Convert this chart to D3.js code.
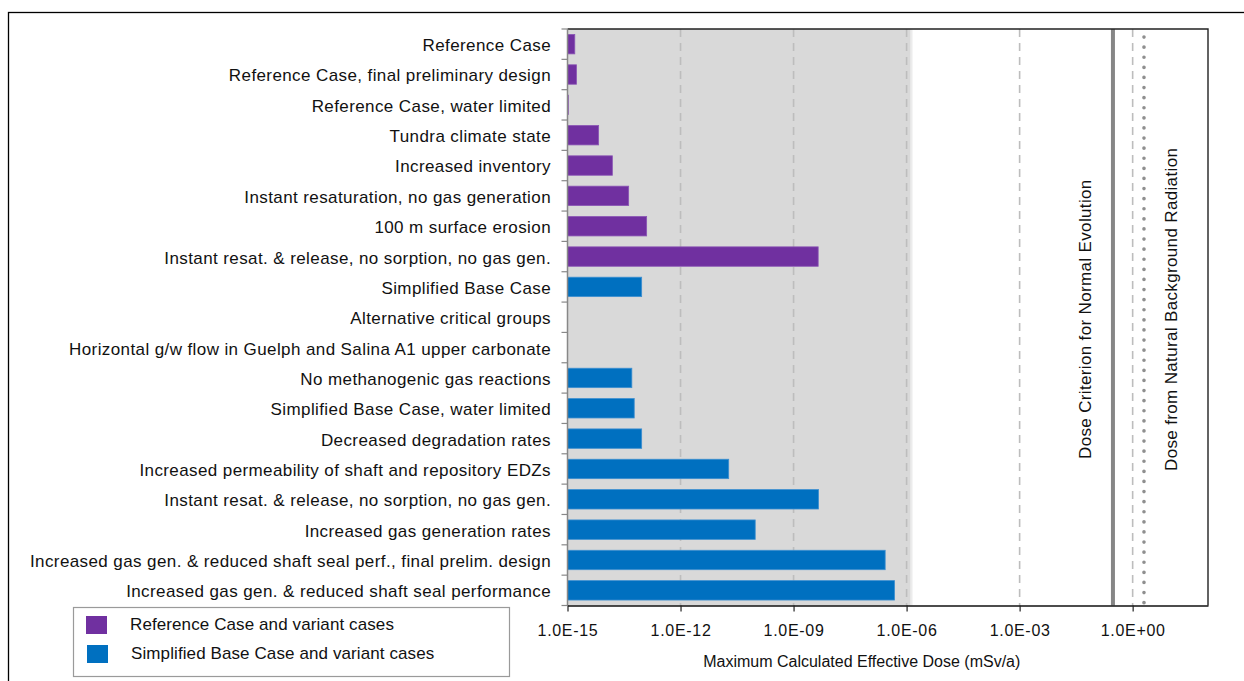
<!DOCTYPE html>
<html><head><meta charset="utf-8">
<script src="https://d3js.org/d3.v7.min.js"></script>
<style>body{margin:0;background:#fff;} svg{display:block;font-family:"Liberation Sans",Arial,sans-serif;}</style>
</head><body>
<script>
const categories = [
 "Reference Case","Reference Case, final preliminary design","Reference Case, water limited",
 "Tundra climate state","Increased inventory","Instant resaturation, no gas generation",
 "100 m surface erosion","Instant resat. & release, no sorption, no gas gen.",
 "Simplified Base Case","Alternative critical groups","Horizontal g/w flow in Guelph and Salina A1 upper carbonate",
 "No methanogenic gas reactions","Simplified Base Case, water limited","Decreased degradation rates",
 "Increased permeability of shaft and repository EDZs","Instant resat. & release, no sorption, no gas gen.",
 "Increased gas generation rates","Increased gas gen. & reduced shaft seal perf., final prelim. design",
 "Increased gas gen. & reduced shaft seal performance"];
// group: 0 = Reference Case and variants, 1 = Simplified Base Case and variants
const groups = [0,0,0,0,0,0,0,0,1,1,1,1,1,1,1,1,1,1,1];
const doses = [1.56e-15,1.73e-15,1.05e-15,6.7e-15,1.55e-14,4.2e-14,1.26e-13,4.5e-9,
 9.3e-14,null,null,5.1e-14,5.9e-14,9.3e-14,1.9e-11,4.6e-9,9.6e-11,2.7e-7,4.8e-7];
const tickValues = [1e-15,1e-12,1e-9,1e-6,1e-3,1e0];
const tickLabels = ["1.0E-15","1.0E-12","1.0E-09","1.0E-06","1.0E-03","1.0E+00"];
const gridValues = [1e-12,1e-9,1e-6,1e-3,1e0];
const shadeEnd = 1.25e-6;
const doseCriterion = 0.3;
const backgroundDose = 2.0;
const legendLabels = ["Reference Case and variant cases","Simplified Base Case and variant cases"];
const colors = ["#7030A0","#0070C0"];
const strokes = ["#8a55b5","#3d8fd0"];

const W=1244,H=681;
const svg=d3.select("body").append("svg").attr("width",W).attr("height",H);
svg.append("rect").attr("x",8.5).attr("y",12.5).attr("width",1240).attr("height",700)
  .attr("fill","none").attr("stroke","#000").attr("stroke-width",1.3);

const L=567.5,R=1208,T=29,B=605.5;
const x=d3.scaleLog().domain([1e-15,1e2]).range([L,R]);
const y=d3.scaleBand().domain(d3.range(categories.length)).range([T,B]).paddingInner(0.36).paddingOuter(0.18);

// shade
svg.append("rect").attr("x",L).attr("y",T).attr("width",x(shadeEnd*1.15)-L).attr("height",B-T).attr("fill","#ececec");
svg.append("rect").attr("x",L).attr("y",T).attr("width",x(shadeEnd)-L).attr("height",B-T).attr("fill","#d9d9d9");

// grid
svg.selectAll(".grid").data(gridValues).enter().append("line")
 .attr("x1",d=>x(d)).attr("x2",d=>x(d)).attr("y1",T).attr("y2",B)
 .attr("stroke","#bdbdbd").attr("stroke-width",1.6).attr("stroke-dasharray","8,6");

// reference lines
svg.append("line").attr("x1",x(doseCriterion)).attr("x2",x(doseCriterion)).attr("y1",T).attr("y2",B)
 .attr("stroke","#868686").attr("stroke-width",4);
svg.append("line").attr("x1",x(backgroundDose)).attr("x2",x(backgroundDose)).attr("y1",T+8).attr("y2",B)
 .attr("stroke","#8f8f8f").attr("stroke-width",3.6).attr("stroke-linecap","round").attr("stroke-dasharray","0.1,10");

// bars
const idx=d3.range(categories.length).filter(i=>doses[i]!=null);
svg.selectAll(".bar").data(idx).enter().append("rect")
 .attr("x",L).attr("y",i=>y(i)).attr("width",i=>Math.max(0.8,x(doses[i])-L)).attr("height",y.bandwidth())
 .attr("fill",i=>colors[groups[i]]).attr("stroke",i=>strokes[groups[i]]).attr("stroke-width",0.8);

// plot border top/right
svg.append("path").attr("d",`M${L},${T}H${R}V${B}`).attr("fill","none").attr("stroke","#222").attr("stroke-width",1.4);

// y axis
const yb=d3.range(categories.length+1).map(k=>T+k*(B-T)/categories.length);
svg.append("line").attr("x1",L).attr("x2",L).attr("y1",T).attr("y2",B).attr("stroke","#888").attr("stroke-width",1.5);
svg.selectAll(".ytick").data(yb).enter().append("line").attr("x1",L-6).attr("x2",L).attr("y1",d=>d).attr("y2",d=>d)
 .attr("stroke","#888").attr("stroke-width",1.2);
svg.selectAll(".ylab").data(categories).enter().append("text")
 .attr("x",551).attr("y",(d,i)=>y(i)+y.bandwidth()/2+1).attr("dy","0.35em").attr("text-anchor","end")
 .attr("font-size",17).attr("fill","#111").attr("letter-spacing","0.4").text(d=>d);

// x axis
const xa=svg.append("g").attr("transform",`translate(0,${B})`)
 .call(d3.axisBottom(x).tickValues(tickValues).tickFormat((d,i)=>tickLabels[i]).tickSize(6).tickSizeOuter(0));
xa.select(".domain").attr("stroke","#111").attr("stroke-width",1.5);
xa.selectAll(".tick line").attr("stroke","#222").attr("stroke-width",1.2);
xa.selectAll(".tick text").attr("font-size",16).attr("letter-spacing","0.7").attr("fill","#111").attr("font-family","Liberation Sans, Arial, sans-serif").attr("dy","1.35em");
svg.append("text").attr("x",(L+1156)/2).attr("y",667).attr("text-anchor","middle").attr("font-size",16).attr("fill","#111")
 .text("Maximum Calculated Effective Dose (mSv/a)");

// rotated labels
svg.append("text").attr("transform",`translate(${x(doseCriterion)-22},459) rotate(-90)`).attr("font-size",17).attr("letter-spacing","0.35").attr("fill","#111")
 .text("Dose Criterion for Normal Evolution");
svg.append("text").attr("transform",`translate(${x(backgroundDose)+33},471) rotate(-90)`).attr("font-size",17).attr("letter-spacing","0.35").attr("fill","#111")
 .text("Dose from Natural Background Radiation");

// legend
const lg=svg.append("g");
lg.append("rect").attr("x",73.5).attr("y",607.5).attr("width",436).attr("height",69).attr("fill","#fff").attr("stroke","#9a9a9a").attr("stroke-width",1.2);
legendLabels.forEach((t,i)=>{
  lg.append("rect").attr("x",86+i).attr("y",616+i*29).attr("width",21).attr("height",18).attr("fill",colors[i]);
  lg.append("text").attr("x",130+i).attr("y",624+i*29).attr("dy","0.35em").attr("font-size",17).attr("letter-spacing","0.1").attr("fill","#111").text(t);
});
</script>
</body></html>
